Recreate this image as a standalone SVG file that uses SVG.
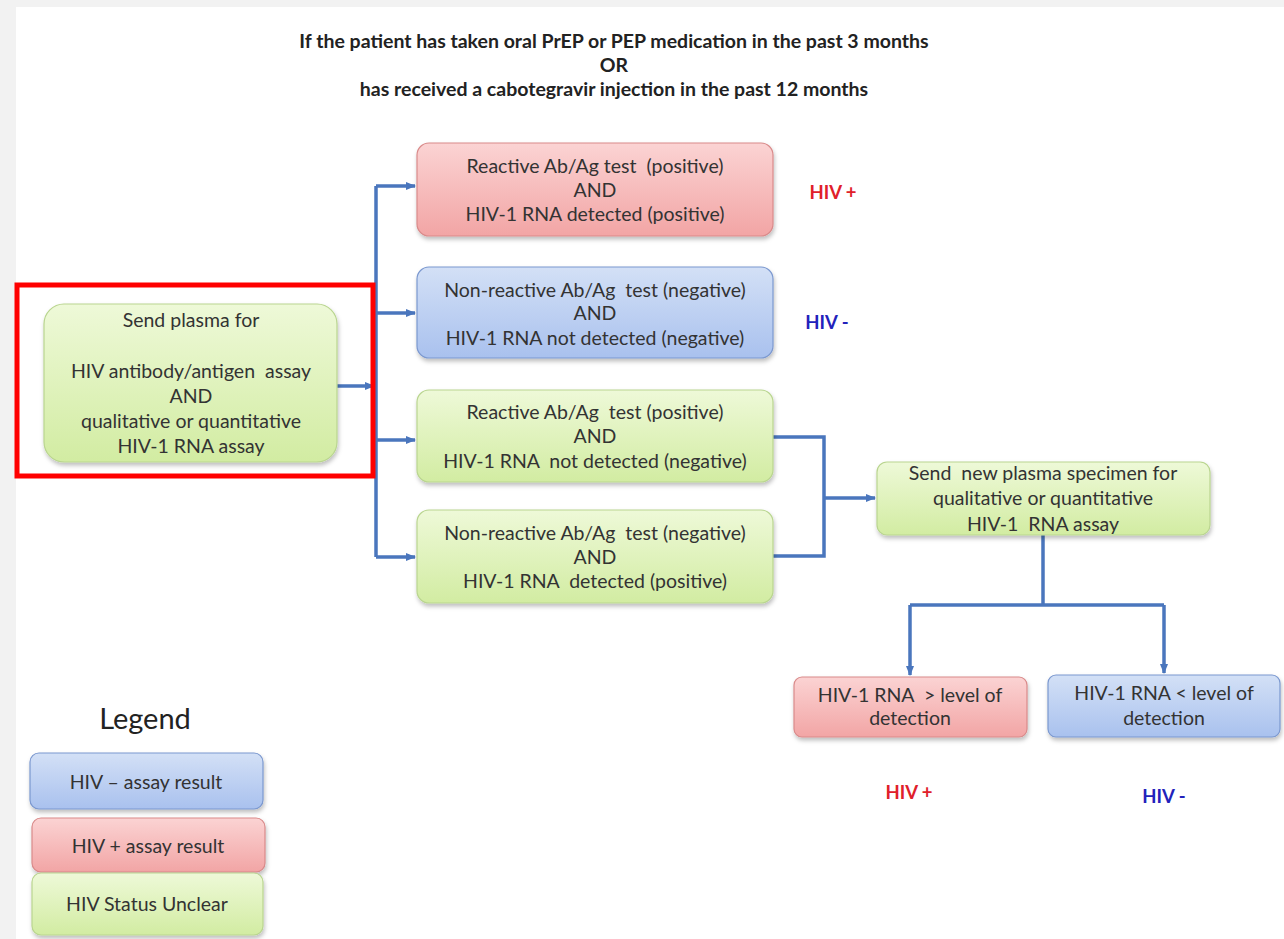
<svg xmlns="http://www.w3.org/2000/svg" width="1284" height="939" viewBox="0 0 1284 939">
<defs>
<linearGradient id="gRed" x1="0" y1="0" x2="0" y2="1"><stop offset="0" stop-color="#fbd3d3"/><stop offset="1" stop-color="#f2a5a5"/></linearGradient>
<linearGradient id="gBlue" x1="0" y1="0" x2="0" y2="1"><stop offset="0" stop-color="#d3e0f6"/><stop offset="1" stop-color="#a9c1ee"/></linearGradient>
<linearGradient id="gGreen" x1="0" y1="0" x2="0" y2="1"><stop offset="0" stop-color="#eef9d8"/><stop offset="1" stop-color="#d2eca2"/></linearGradient>
<filter id="sh" x="-10%" y="-10%" width="130%" height="140%"><feDropShadow dx="1" dy="3" stdDeviation="2" flood-color="#000" flood-opacity="0.25"/></filter>
<marker id="ah" viewBox="0 0 10 10" refX="9" refY="5" markerWidth="3" markerHeight="3" orient="auto-start-reverse"><path d="M0,1 L10,5 L0,9 z" fill="#4a76bd"/></marker>
<style>
.t{font-family:Lato,"Open Sans","Liberation Sans",sans-serif;font-size:19.5px;fill:#333;text-anchor:middle;white-space:pre}
.ti{font-family:Lato,"Open Sans","Liberation Sans",sans-serif;font-size:19.5px;font-weight:bold;fill:#222;text-anchor:middle}
.red{fill:url(#gRed);stroke:#d98a8a;stroke-width:1.2;filter:url(#sh)}
.blue{fill:url(#gBlue);stroke:#7b98cf;stroke-width:1.2;filter:url(#sh)}
.green{fill:url(#gGreen);stroke:#b9d58f;stroke-width:1.2;filter:url(#sh)}
.c{fill:none;stroke:#4a76bd;stroke-width:3.5}
.ca{fill:none;stroke:#4a76bd;stroke-width:3.5;marker-end:url(#ah)}
.hp{font-family:Lato,"Open Sans","Liberation Sans",sans-serif;font-size:18.5px;font-weight:bold;fill:#e0202a;text-anchor:middle}
.hn{font-family:Lato,"Open Sans","Liberation Sans",sans-serif;font-size:18.5px;font-weight:bold;fill:#2222bb;text-anchor:middle}
</style>
</defs>
<rect x="0" y="0" width="1284" height="939" fill="#f2f2f2"/>
<rect x="16" y="7" width="1268" height="932" fill="#ffffff"/>

<g id="title">
<text class="ti" x="614" y="48">If the patient has taken oral PrEP or PEP medication in the past 3 months</text>
<text class="ti" x="614" y="72">OR</text>
<text class="ti" x="614" y="96">has received a cabotegravir injection in the past 12 months</text>
</g>

<g id="connectors">
<path class="ca" d="M337,386 H374"/>
<path class="c" d="M376,186 V557"/>
<path class="ca" d="M376,186 H415"/>
<path class="ca" d="M376,313 H415"/>
<path class="ca" d="M376,440 H415"/>
<path class="ca" d="M376,557 H415"/>
<path class="c" d="M773,437 H824 V556 H773"/>
<path class="ca" d="M824,498 H875"/>
<path class="c" d="M1043,535 V605"/>
<path class="c" d="M910,605 H1164"/>
<path class="ca" d="M910,605 V675"/>
<path class="ca" d="M1164,605 V673"/>
</g>

<g id="start">
<rect class="green" x="44" y="304" width="293" height="158" rx="20"/>
<text class="t" x="191" y="327">Send plasma for</text>
<text class="t" x="191" y="378">HIV antibody/antigen  assay</text>
<text class="t" x="191" y="403">AND</text>
<text class="t" x="191" y="428">qualitative or quantitative</text>
<text class="t" x="191" y="453">HIV-1 RNA assay</text>
</g>
<rect id="highlight" x="17" y="285" width="356" height="191" fill="none" stroke="#ff0000" stroke-width="5"/>

<g id="n1">
<rect class="red" x="417" y="143" width="356" height="93" rx="12"/>
<text class="t" x="595" y="173">Reactive Ab/Ag test  (positive)</text>
<text class="t" x="595" y="197">AND</text>
<text class="t" x="595" y="221">HIV-1 RNA detected (positive)</text>
</g>
<text class="hp" x="833" y="199">HIV +</text>

<g id="n2">
<rect class="blue" x="417" y="267" width="356" height="91" rx="12"/>
<text class="t" x="595" y="297">Non-reactive Ab/Ag  test (negative)</text>
<text class="t" x="595" y="320">AND</text>
<text class="t" x="595" y="345">HIV-1 RNA not detected (negative)</text>
</g>
<text class="hn" x="827" y="329">HIV -</text>

<g id="n3">
<rect class="green" x="417" y="390" width="356" height="92" rx="12"/>
<text class="t" x="595" y="419">Reactive Ab/Ag  test (positive)</text>
<text class="t" x="595" y="443">AND</text>
<text class="t" x="595" y="468">HIV-1 RNA  not detected (negative)</text>
</g>

<g id="n4">
<rect class="green" x="417" y="510" width="356" height="93" rx="12"/>
<text class="t" x="595" y="540">Non-reactive Ab/Ag  test (negative)</text>
<text class="t" x="595" y="564">AND</text>
<text class="t" x="595" y="588">HIV-1 RNA  detected (positive)</text>
</g>

<g id="n5">
<rect class="green" x="877" y="462" width="333" height="73" rx="10"/>
<text class="t" x="1043" y="480">Send  new plasma specimen for</text>
<text class="t" x="1043" y="505">qualitative or quantitative</text>
<text class="t" x="1043" y="531">HIV-1  RNA assay</text>
</g>

<g id="n6">
<rect class="red" x="794" y="677" width="233" height="60" rx="8"/>
<text class="t" x="910" y="702">HIV-1 RNA  &gt; level of</text>
<text class="t" x="910" y="725">detection</text>
</g>
<text class="hp" x="909" y="799">HIV +</text>

<g id="n7">
<rect class="blue" x="1048" y="675" width="232" height="62" rx="8"/>
<text class="t" x="1164" y="700">HIV-1 RNA &lt; level of</text>
<text class="t" x="1164" y="725">detection</text>
</g>
<text class="hn" x="1164" y="803">HIV -</text>

<g id="legend">
<text x="145" y="729" font-family="Lato,'Open Sans','Liberation Sans',sans-serif" font-size="29" fill="#222" text-anchor="middle">Legend</text>
<g id="lg-neg"><rect class="blue" x="30" y="753" width="233" height="56" rx="9"/><text class="t" x="146" y="789">HIV – assay result</text></g>
<g id="lg-pos"><rect class="red" x="32" y="818" width="233" height="54" rx="9"/><text class="t" x="148" y="853">HIV + assay result</text></g>
<g id="lg-unc"><rect class="green" x="32" y="873" width="231" height="62" rx="9"/><text class="t" x="147" y="911">HIV Status Unclear</text></g>
</g>
</svg>
